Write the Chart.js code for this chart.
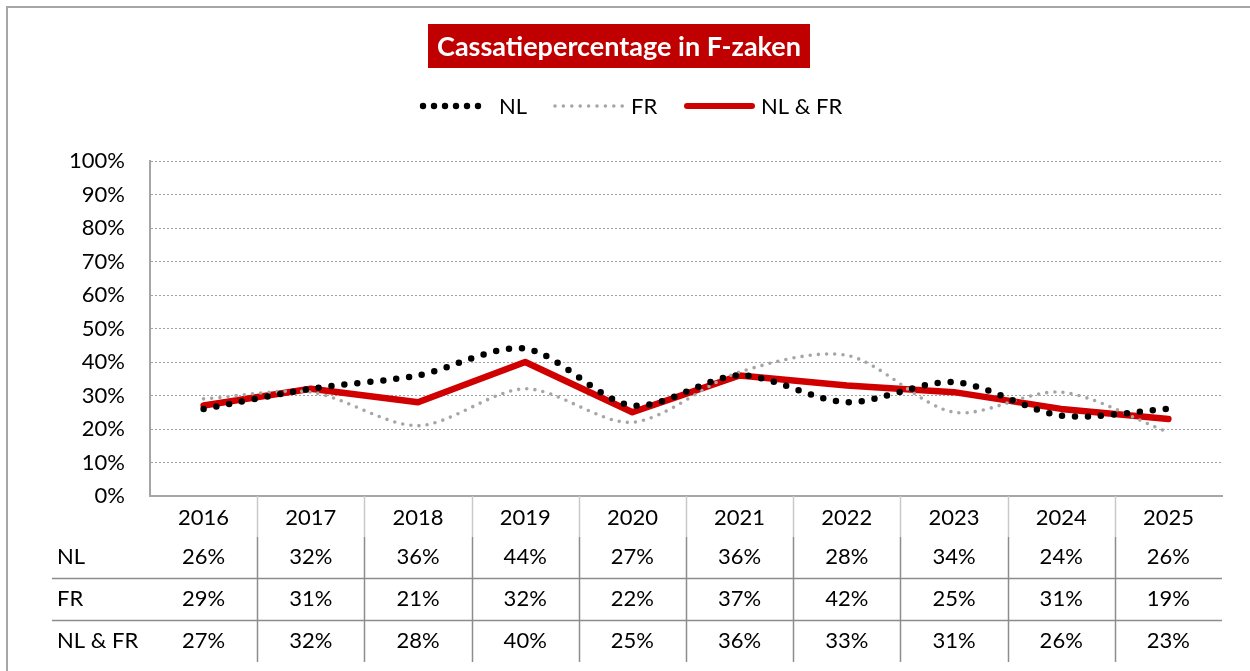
<!DOCTYPE html>
<html>
<head>
<meta charset="utf-8">
<script src="https://cdn.jsdelivr.net/npm/chart.js@4"></script>
<style>
  html, body { margin: 0; padding: 0; background: #fff; }
  #wrap { width: 1250px; height: 671px; position: relative; }
</style>
</head>
<body>
<div id="wrap"><canvas id="c" width="1250" height="671"></canvas></div>
<script>
const years = ['2016', '2017', '2018', '2019', '2020', '2021', '2022', '2023', '2024', '2025'];
const nl = [26, 32, 36, 44, 27, 36, 28, 34, 24, 26];
const fr = [29, 31, 21, 32, 22, 37, 42, 25, 31, 19];
const nlfr = [27, 32, 28, 40, 25, 36, 33, 31, 26, 23];
const yTicks = [0, 10, 20, 30, 40, 50, 60, 70, 80, 90, 100];
const rowNames = ['NL', 'FR', 'NL & FR'];

const FONT = 'Lato, "Noto Sans", sans-serif';
const RED = '#D00000';
const GREY = '#A6A6A6';

// frame, title, legend and the data table under the axis
const extras = {
  id: 'extras',
  afterDraw(chart) {
    const ctx = chart.ctx;
    const x = chart.scales.x;
    const area = chart.chartArea;
    ctx.save();

    // outer frame (left + top)
    ctx.strokeStyle = '#A6A6A6';
    ctx.lineWidth = 2;
    ctx.beginPath();
    ctx.moveTo(7, 671);
    ctx.lineTo(7, 7);
    ctx.lineTo(1250, 7);
    ctx.stroke();

    // title
    ctx.fillStyle = '#C00000';
    ctx.fillRect(428, 24, 382, 44);
    ctx.fillStyle = '#fff';
    ctx.font = 'bold 27px ' + FONT;
    ctx.textAlign = 'center';
    ctx.textBaseline = 'middle';
    ctx.fillText('Cassatiepercentage in F-zaken', 619, 47);

    // legend
    const ly = 106;
    ctx.fillStyle = '#000';
    for (let i = 0; i < 6; i++) {
      ctx.beginPath();
      ctx.arc(423 + i * 11, ly, 3.2, 0, Math.PI * 2);
      ctx.fill();
    }
    ctx.fillStyle = GREY;
    for (let i = 0; i < 9; i++) {
      ctx.beginPath();
      ctx.arc(555 + i * 8.4, ly, 1.8, 0, Math.PI * 2);
      ctx.fill();
    }
    ctx.strokeStyle = RED;
    ctx.lineWidth = 6;
    ctx.lineCap = 'round';
    ctx.beginPath();
    ctx.moveTo(687, ly);
    ctx.lineTo(752, ly);
    ctx.stroke();
    ctx.fillStyle = '#000';
    ctx.font = '22px ' + FONT;
    ctx.textAlign = 'left';
    ctx.fillText('NL', 499, ly + 1);
    ctx.fillText('FR', 631, ly + 1);
    ctx.fillText('NL & FR', 761, ly + 1);

    // data table
    const rows = [nl, fr, nlfr];
    const rowY = [557, 599, 641];
    const step = x.getPixelForValue(1) - x.getPixelForValue(0);
    ctx.lineCap = 'butt';
    ctx.lineWidth = 1.5;
    for (let i = 1; i < years.length; i++) {
      const bx = Math.round(x.getPixelForValue(i) - step / 2) + 0.5;
      ctx.strokeStyle = '#C8C8C8';
      ctx.beginPath(); ctx.moveTo(bx, area.bottom); ctx.lineTo(bx, 537); ctx.stroke();
      ctx.strokeStyle = '#8C8C8C';
      ctx.beginPath(); ctx.moveTo(bx, 537); ctx.lineTo(bx, 662); ctx.stroke();
    }
    ctx.strokeStyle = '#8C8C8C';
    [578.5, 620.5].forEach(hy => {
      ctx.beginPath(); ctx.moveTo(52, hy); ctx.lineTo(area.right, hy); ctx.stroke();
    });
    ctx.fillStyle = '#000';
    ctx.font = '22px ' + FONT;
    rows.forEach((vals, r) => {
      ctx.textAlign = 'left';
      ctx.fillText(rowNames[r], 57, rowY[r]);
      ctx.textAlign = 'center';
      vals.forEach((v, i) => ctx.fillText(v + '%', x.getPixelForValue(i), rowY[r]));
    });
    ctx.restore();
  }
};

new Chart(document.getElementById('c'), {
  type: 'line',
  data: {
    labels: years,
    datasets: [
      {
        label: 'NL', data: nl, borderColor: '#000', borderWidth: 6.5,
        borderDash: [0, 13], borderCapStyle: 'round', tension: 0.3, pointRadius: 0
      },
      {
        label: 'FR', data: fr, borderColor: GREY, borderWidth: 3.6,
        borderDash: [0, 8.2], borderCapStyle: 'round', tension: 0.3, pointRadius: 0
      },
      {
        label: 'NL & FR', data: nlfr, borderColor: RED, borderWidth: 6.5,
        borderCapStyle: 'round', borderJoinStyle: 'round', tension: 0, pointRadius: 0
      }
    ]
  },
  options: {
    responsive: false,
    animation: false,
    events: [],
    layout: { padding: { top: 161, right: 28, left: 0, bottom: 0 } },
    plugins: { legend: { display: false }, title: { display: false }, tooltip: { enabled: false } },
    scales: {
      x: {
        offset: true,
        grid: { display: false, drawTicks: false },
        border: { display: true, color: '#A6A6A6', width: 2 },
        ticks: { color: '#000', font: { family: FONT, size: 22 }, padding: 9, maxRotation: 0 },
        afterFit: s => { s.height = 175; }
      },
      y: {
        min: 0, max: 100,
        afterBuildTicks: s => { s.ticks = yTicks.map(v => ({ value: v })); },
        grid: { color: '#A0A0A0', lineWidth: 1, drawTicks: false },
        border: { display: true, color: '#A6A6A6', width: 2, dash: [2, 2] },
        ticks: { color: '#000', font: { family: FONT, size: 22 }, padding: 25, callback: v => v + '%' },
        afterFit: s => { s.width = 150; }
      }
    }
  },
  plugins: [extras]
});
</script>
</body>
</html>
